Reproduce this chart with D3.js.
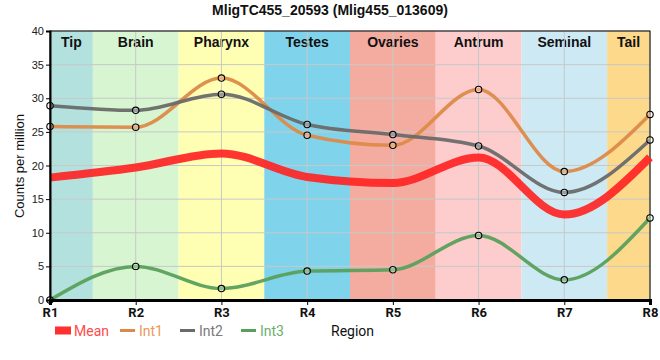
<!DOCTYPE html>
<html><head><meta charset="utf-8">
<script src="https://cdn.jsdelivr.net/npm/d3@7"></script>
<style>body{margin:0;background:#fff}</style>
</head><body><svg id="c" width="660" height="360"></svg>
<script>
const title = "MligTC455_20593 (Mlig455_013609)";
const positions = ["R1","R2","R3","R4","R5","R6","R7","R8"];
const regions = ["Tip","Brain","Pharynx","Testes","Ovaries","Antrum","Seminal","Tail"];
const regionColors = ["#b3e2de","#d6f5d0","#ffffb3","#7fd4ec","#f4aca0","#fdcccc","#cdeaf4","#fcd98b"];
const meanVals = [18.2, 19.7, 21.8, 18.3, 17.4, 21.2, 12.7, 21.2];
const int1Vals = [25.8, 25.7, 33.0, 24.5, 23.0, 31.3, 19.1, 27.6];
const int2Vals = [28.9, 28.2, 30.6, 26.1, 24.6, 22.9, 16.0, 23.8];
const int3Vals = [0.0, 5.0, 1.7, 4.3, 4.5, 9.6, 3.0, 12.2];
const yTicks = [0,5,10,15,20,25,30,35,40];

const svg = d3.select("#c");
const L=50, R=650, T=31, B=300;
const x = d3.scalePoint().domain(positions).range([L,R]);
const y = d3.scaleLinear().domain([0,40]).range([B,T]);
const step = x.step();

// bands
const g = svg.append("g");
regions.forEach((r,i)=>{
  const x0 = Math.max(L, x(positions[i]) - step/2);
  const x1 = Math.min(R, x(positions[i]) + step/2);
  g.append("rect").attr("x",x0).attr("y",T).attr("width",x1-x0).attr("height",B-T).attr("fill",regionColors[i]);
  g.append("text").attr("x",(x0+x1)/2).attr("y",T+16).attr("text-anchor","middle")
    .attr("font-family","Liberation Sans Narrow, Arial Narrow, sans-serif").attr("font-weight","bold")
    .attr("font-size",14).attr("fill","#111").text(r);
});
// grid
yTicks.forEach(t=>{ g.append("line").attr("x1",L).attr("x2",R).attr("y1",y(t)).attr("y2",y(t)).attr("stroke","#c8c8c8").attr("stroke-width",1); });
positions.forEach(p=>{ g.append("line").attr("x1",x(p)).attr("x2",x(p)).attr("y1",T).attr("y2",B).attr("stroke","#c8c8c8").attr("stroke-width",1); });

// border
svg.append("rect").attr("x",L).attr("y",T).attr("width",R-L).attr("height",B-T).attr("fill","none").attr("stroke","#000").attr("stroke-width",1);

const line = d3.line().x((d,i)=>x(positions[i])).y(d=>y(d)).curve(d3.curveMonotoneX);
const series = [
  {name:"Mean", vals:meanVals, color:"#ff2424", w:8, op:0.92, txt:"#ff4a4a", pts:false},
  {name:"Int1", vals:int1Vals, color:"#dd8a48", w:3.5, op:0.95, txt:"#e89a5c", pts:true},
  {name:"Int2", vals:int2Vals, color:"#6a6a6a", w:3.5, op:0.95, txt:"#7a7a7a", pts:true},
  {name:"Int3", vals:int3Vals, color:"#5aa05c", w:3.5, op:0.95, txt:"#6ab06c", pts:true}
];
series.forEach(s=>{
  svg.append("path").attr("d",line(s.vals)).attr("fill","none").attr("stroke",s.color)
    .attr("stroke-width",s.w).attr("stroke-opacity",s.op);
});
series.filter(s=>s.pts).forEach(s=>{
  svg.append("g").selectAll("circle").data(s.vals).join("circle")
    .attr("cx",(d,i)=>x(positions[i])).attr("cy",d=>y(d)).attr("r",3.2)
    .attr("fill","#fff").attr("fill-opacity",0.3).attr("stroke","#000").attr("stroke-width",1.1);
});

// axes
const ya = svg.append("g").attr("transform",`translate(${L},0)`)
  .call(d3.axisLeft(y).tickValues(yTicks).tickSize(4).tickPadding(2));
ya.select(".domain").attr("stroke-width",2);
ya.selectAll("text").attr("font-family","Liberation Sans, Arial, sans-serif").attr("font-size",11).attr("fill","#222");
const xa = svg.append("g").attr("transform",`translate(0,${B})`)
  .call(d3.axisBottom(x).tickSize(5).tickPadding(3));
xa.select(".domain").attr("stroke-width",3);
xa.selectAll("text").attr("font-family","Roboto, sans-serif").attr("font-weight","bold").attr("font-size",13).attr("fill","#111");

// title
svg.append("text").attr("x",330).attr("y",15).attr("text-anchor","middle")
  .attr("font-family","Liberation Sans Narrow, Arial Narrow, sans-serif").attr("font-weight","bold")
  .attr("font-size",14).attr("fill","#111").text(title);
// y label
svg.append("text").attr("transform","translate(24,166) rotate(-90)").attr("text-anchor","middle")
  .attr("font-family","Liberation Sans, Arial, sans-serif").attr("font-size",13).attr("fill","#111").text("Counts per million");
// x label
svg.append("text").attr("x",331).attr("y",336).attr("font-family","Roboto, sans-serif").attr("font-size",14).attr("fill","#111").text("Region");

// legend
const lx = [55,120,180,241];
series.forEach((s,i)=>{
  if(s.name==="Mean"){
    svg.append("rect").attr("x",lx[i]).attr("y",326.5).attr("width",16).attr("height",8).attr("fill","#ff3030");
  } else {
    svg.append("line").attr("x1",lx[i]).attr("x2",lx[i]+15).attr("y1",330.5).attr("y2",330.5).attr("stroke",s.color).attr("stroke-width",3);
  }
  svg.append("text").attr("x",lx[i]+19).attr("y",335.5).attr("font-family","Roboto, sans-serif")
    .attr("font-size",14).attr("fill",s.txt).text(s.name);
});
</script></body></html>
